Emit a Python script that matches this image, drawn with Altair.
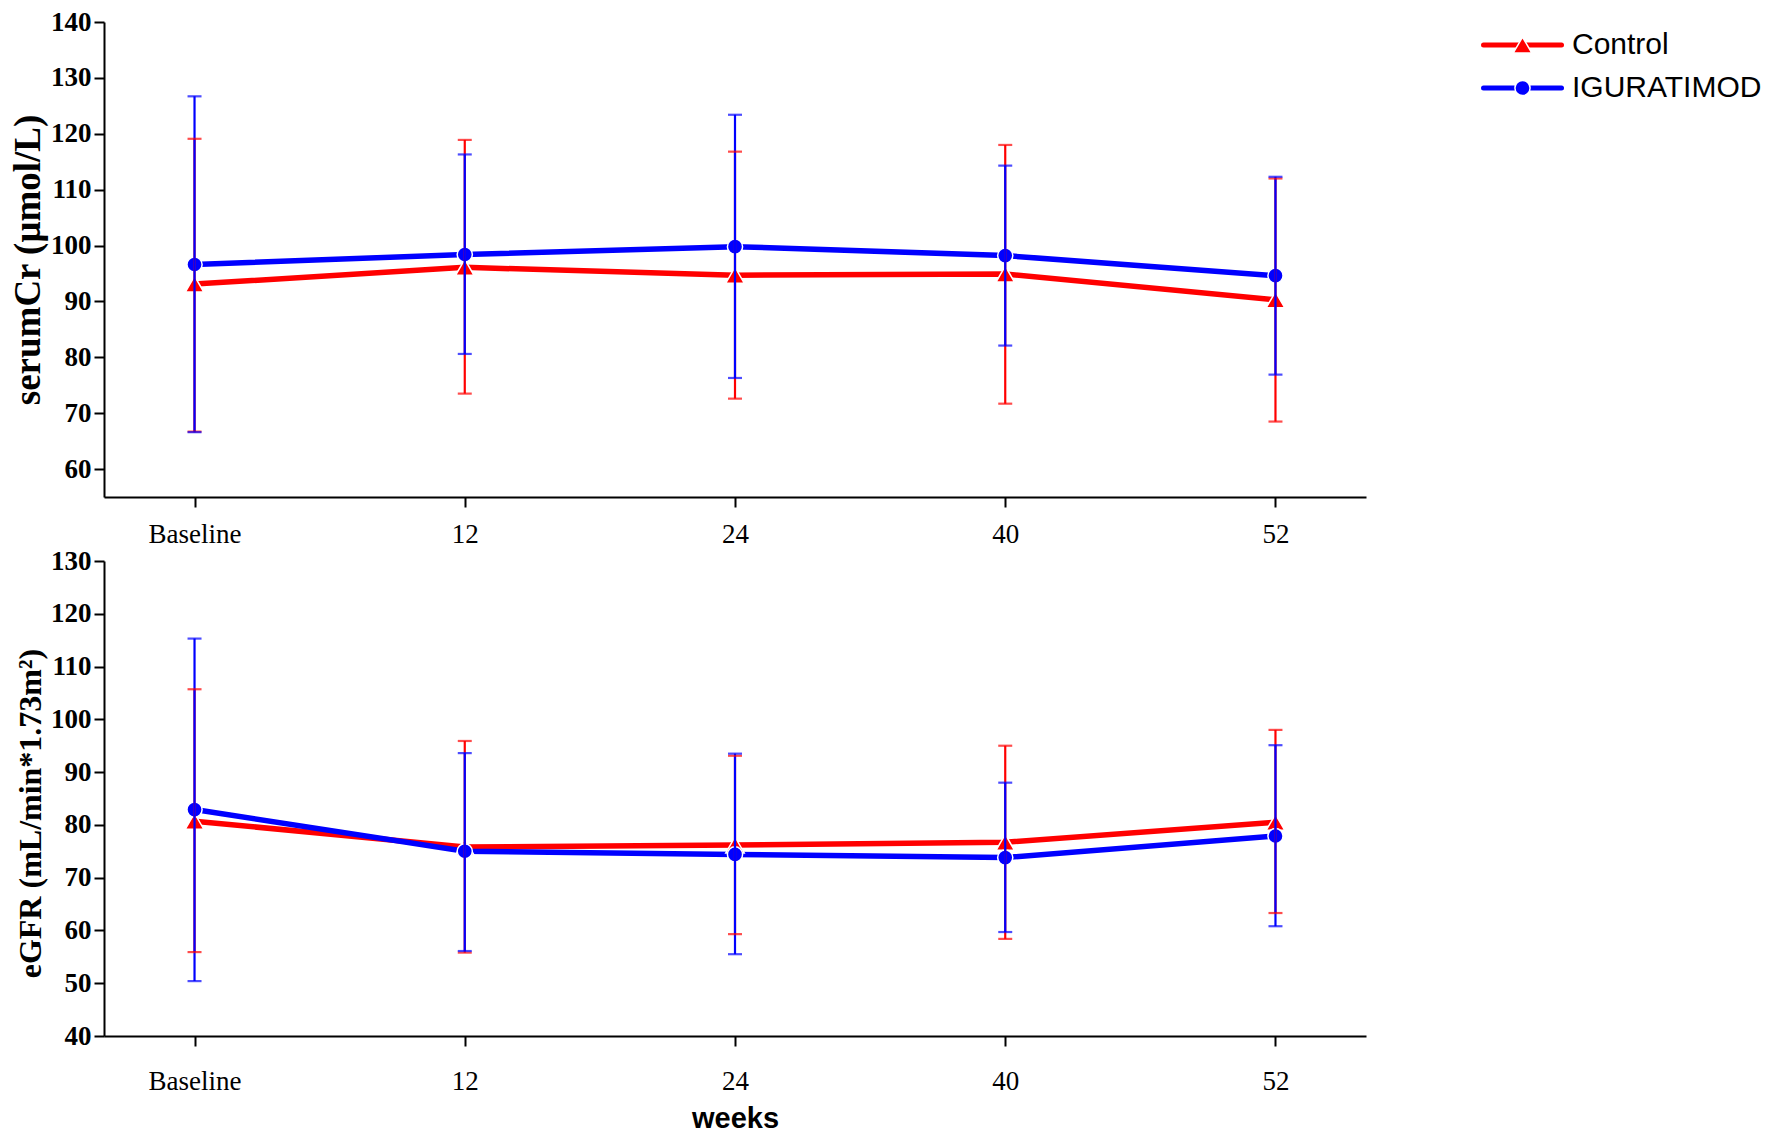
import altair as alt
import pandas as pd

weeks = ["Baseline", "12", "24", "40", "52"]
groups = ["Control", "IGURATIMOD"]

# serum creatinine (umol/L): mean and error-bar ends
scr_control_mean = [93.1, 96.1, 94.7, 94.9, 90.3]
scr_control_lo = [66.7, 73.5, 72.6, 71.7, 68.5]
scr_control_hi = [119.1, 118.9, 116.8, 118.0, 112.0]
scr_igu_mean = [96.6, 98.4, 99.8, 98.2, 94.6]
scr_igu_lo = [66.6, 80.6, 76.3, 82.1, 76.9]
scr_igu_hi = [126.7, 116.3, 123.4, 114.3, 112.3]

# eGFR (mL/min*1.73m2): mean and error-bar ends
egfr_control_mean = [80.7, 75.8, 76.2, 76.7, 80.5]
egfr_control_lo = [55.9, 55.8, 59.3, 58.4, 63.3]
egfr_control_hi = [105.7, 95.9, 93.1, 95.0, 98.0]
egfr_igu_mean = [82.9, 75.0, 74.4, 73.8, 77.9]
egfr_igu_lo = [50.4, 56.1, 55.5, 59.7, 60.8]
egfr_igu_hi = [115.3, 93.6, 93.5, 88.0, 95.1]

scr_ticks = list(range(60, 141, 10))
egfr_ticks = list(range(40, 131, 10))

RED = "#ff0000"
BLUE = "#0000ff"
SERIF = "Liberation Serif"
SANS = "Liberation Sans"


def make_df(cm, cl, ch, im, il, ih):
    rows = []
    for g, m, lo, hi in [("Control", cm, cl, ch), ("IGURATIMOD", im, il, ih)]:
        for w, a, b, c in zip(weeks, m, lo, hi):
            rows.append({"week": w, "group": g, "mean": a, "lo": b, "hi": c})
    return pd.DataFrame(rows)


color_scale = alt.Scale(domain=groups, range=[RED, BLUE])


def markers(base, x, y):
    tri = base.transform_filter(alt.datum.group == "Control").mark_point(
        shape="triangle-up", size=340, filled=True, color=RED, stroke="white",
        strokeWidth=1.5, opacity=1,
    ).encode(x=x, y=y)
    cir = base.transform_filter(alt.datum.group == "IGURATIMOD").mark_point(
        shape="circle", size=230, filled=True, color=BLUE, stroke="white",
        strokeWidth=1.5, opacity=1,
    ).encode(x=x, y=y)
    return tri, cir


def panel(df, ydomain, yticks, ytitle, ytitle_size, xtitle, xlabel_pad, ytitle_y=None):
    xaxis = alt.Axis(
        labelAngle=0, labelFont=SERIF, labelFontSize=27, labelColor="black",
        labelPadding=xlabel_pad, tickSize=10, tickWidth=2, tickColor="black",
        domainWidth=2, domainColor="black", grid=False,
        titleFont=SANS, titleFontSize=29, titleFontWeight="bold",
        titleColor="black", titlePadding=10,
    )
    xscale = alt.Scale(type="point", padding=0.335)
    if xtitle is None:
        x = alt.X("week:N", sort=weeks, scale=xscale, axis=xaxis, title=None)
    else:
        x = alt.X("week:N", sort=weeks, scale=xscale, axis=xaxis, title=xtitle)
    yaxis_kw = dict(
        values=yticks, labelFont=SERIF, labelFontSize=27, labelFontWeight="bold",
        labelColor="black", labelPadding=3, tickSize=10, tickWidth=2,
        tickColor="black", domainWidth=2, domainColor="black", grid=False,
        titleFont=SERIF, titleFontSize=ytitle_size, titleFontWeight="bold",
        titleColor="black", titlePadding=3,
    )
    if ytitle_y is not None:
        yaxis_kw["titleY"] = ytitle_y
    yaxis = alt.Axis(**yaxis_kw)
    yscale = alt.Scale(domain=ydomain, nice=False, zero=False)
    base = alt.Chart(df)
    color = alt.Color("group:N", scale=color_scale, legend=None)

    line = base.mark_line(strokeWidth=5.5).encode(
        x=x, y=alt.Y("mean:Q", scale=yscale, axis=yaxis, title=ytitle), color=color
    )
    tri, cir = markers(base, x, alt.Y("mean:Q"))
    bars = base.mark_rule(strokeWidth=2.2).encode(
        x=x, y=alt.Y("lo:Q"), y2="hi:Q", color=color
    )
    cap_lo = base.mark_tick(orient="horizontal", size=14, thickness=2.2).encode(
        x=x, y=alt.Y("lo:Q"), color=color
    )
    cap_hi = base.mark_tick(orient="horizontal", size=14, thickness=2.2).encode(
        x=x, y=alt.Y("hi:Q"), color=color
    )
    return alt.layer(line, tri, cir, bars, cap_lo, cap_hi).properties(width=1262, height=475)


df_scr = make_df(scr_control_mean, scr_control_lo, scr_control_hi,
                 scr_igu_mean, scr_igu_lo, scr_igu_hi)
df_egfr = make_df(egfr_control_mean, egfr_control_lo, egfr_control_hi,
                  egfr_igu_mean, egfr_igu_lo, egfr_igu_hi)

top = panel(df_scr, [55, 140], scr_ticks, "serumCr (μmol/L)", 37, None, 14)
bottom = panel(df_egfr, [40, 130], egfr_ticks, "eGFR (mL/min*1.73m²)", 32, "weeks", 22,
               ytitle_y=252)

# legend drawn as a small chart of the two groups
legend_df = pd.DataFrame({"group": groups})
lg_base = alt.Chart(legend_df)
lg_y = alt.Y("group:N", axis=None,
             scale=alt.Scale(type="point", domain=groups, range=[23, 66], padding=0))
lg_line = lg_base.mark_rule(strokeWidth=5, strokeCap="round").encode(
    x=alt.value(2.5), x2=alt.value(80.5), y=lg_y,
    color=alt.Color("group:N", scale=color_scale, legend=None),
)
lg_tri, lg_cir = markers(lg_base, alt.value(41.5), lg_y)
lg_text = lg_base.mark_text(align="left", baseline="middle", font=SANS,
                            fontSize=30, color="black").encode(
    x=alt.value(91), y=lg_y, text="group:N"
)
legend = alt.layer(lg_line, lg_tri, lg_cir, lg_text).properties(width=280, height=100)

chart = alt.hconcat(
    alt.vconcat(top, bottom, spacing=0), legend, spacing=115
).properties(
    padding={"left": 1, "top": 0, "right": 0, "bottom": 0},
    background="white",
).configure_view(stroke=None)

chart.save("out.html", embed_options={"renderer": "svg", "actions": False})
